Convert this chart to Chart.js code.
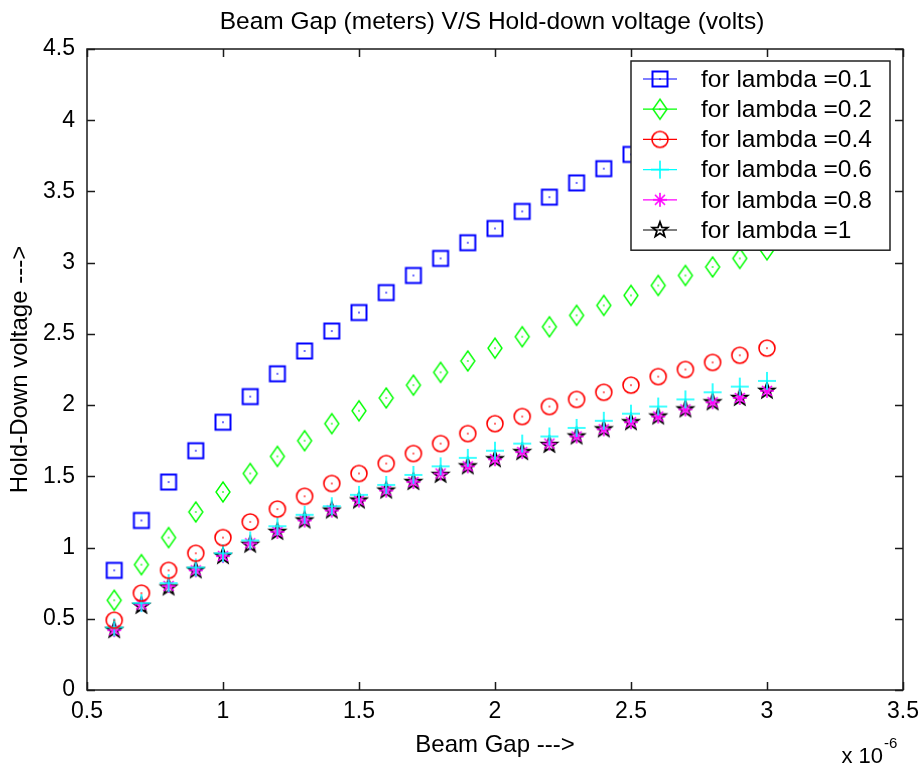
<!DOCTYPE html>
<html>
<head>
<meta charset="utf-8">
<title>Beam Gap V/S Hold-down voltage</title>
<script src="https://cdn.jsdelivr.net/npm/chart.js@4.4.1/dist/chart.umd.min.js"></script>
<style>
  html, body { margin: 0; padding: 0; background: #fff; }
</style>
</head>
<body>
<canvas id="chart" width="922" height="769"></canvas>
<script>
// Beam gap (x 10^-6 m)
const beamGap = [0.6, 0.7, 0.8, 0.9, 1.0, 1.1, 1.2, 1.3, 1.4, 1.5, 1.6, 1.7, 1.8,
  1.9, 2.0, 2.1, 2.2, 2.3, 2.4, 2.5, 2.6, 2.7, 2.8, 2.9, 3.0];

// Hold-down voltage for each lambda
const lambda01 = [0.84, 1.19, 1.46, 1.68, 1.88, 2.06, 2.22, 2.38, 2.52, 2.65, 2.79, 2.91, 3.03,
  3.14, 3.24, 3.36, 3.46, 3.56, 3.66, 3.76, 3.85, 3.94, 4.03, 4.11, 4.19];
const lambda02 = [0.63, 0.88, 1.07, 1.25, 1.39, 1.52, 1.64, 1.75, 1.87, 1.96, 2.05, 2.14, 2.23,
  2.31, 2.40, 2.48, 2.55, 2.63, 2.70, 2.77, 2.84, 2.91, 2.97, 3.03, 3.09];
const lambda04 = [0.49, 0.68, 0.84, 0.96, 1.07, 1.18, 1.27, 1.36, 1.45, 1.52, 1.59, 1.66, 1.73,
  1.80, 1.87, 1.92, 1.99, 2.04, 2.09, 2.14, 2.20, 2.25, 2.30, 2.35, 2.40];
const lambda06 = [0.44, 0.61, 0.75, 0.86, 0.96, 1.05, 1.15, 1.23, 1.29, 1.37, 1.44, 1.51, 1.57,
  1.63, 1.68, 1.73, 1.78, 1.84, 1.89, 1.94, 1.99, 2.04, 2.09, 2.13, 2.17];
const lambda08 = [0.42, 0.60, 0.73, 0.84, 0.94, 1.03, 1.11, 1.19, 1.26, 1.33, 1.40, 1.46, 1.52,
  1.57, 1.62, 1.67, 1.73, 1.78, 1.83, 1.88, 1.92, 1.97, 2.02, 2.05, 2.10];
const lambda10 = [0.42, 0.59, 0.72, 0.84, 0.94, 1.02, 1.11, 1.19, 1.26, 1.33, 1.40, 1.46, 1.51,
  1.57, 1.62, 1.67, 1.72, 1.78, 1.83, 1.88, 1.92, 1.97, 2.02, 2.05, 2.10];

const seriesLabels = ["for lambda =0.1", "for lambda =0.2", "for lambda =0.4",
  "for lambda =0.6", "for lambda =0.8", "for lambda =1"];

const FONT = "'Liberation Sans', Arial, sans-serif";

// Draw a MATLAB style marker into a small canvas, used as pointStyle
function makeMarker(kind, color) {
  const c = document.createElement("canvas");
  c.width = 24;
  c.height = 24;
  const g = c.getContext("2d");
  g.strokeStyle = color;
  g.fillStyle = color;
  g.lineWidth = 1.6;
  g.translate(12, 12);
  g.beginPath();
  if (kind === "square") {
    g.lineWidth = 2;
    g.rect(-7.5, -7.5, 15, 15);
  } else if (kind === "diamond") {
    g.lineWidth = 1.4;
    g.moveTo(0, -10);
    g.lineTo(7, 0);
    g.lineTo(0, 10);
    g.lineTo(-7, 0);
    g.closePath();
  } else if (kind === "circle") {
    g.arc(0, 0, 8, 0, Math.PI * 2);
  } else if (kind === "plus") {
    g.moveTo(-9, 0); g.lineTo(9, 0);
    g.moveTo(0, -9); g.lineTo(0, 9);
  } else if (kind === "asterisk") {
    g.moveTo(-7, 0); g.lineTo(7, 0);
    g.moveTo(0, -7); g.lineTo(0, 7);
    g.moveTo(-5, -5); g.lineTo(5, 5);
    g.moveTo(-5, 5); g.lineTo(5, -5);
  } else if (kind === "star") {
    g.lineWidth = 1.8;
    for (let i = 0; i < 10; i++) {
      const r = i % 2 === 0 ? 8 : 3.3;
      const a = -Math.PI / 2 + (i * Math.PI) / 5;
      if (i === 0) g.moveTo(r * Math.cos(a), r * Math.sin(a));
      else g.lineTo(r * Math.cos(a), r * Math.sin(a));
    }
    g.closePath();
  }
  g.stroke();
  // centre dot
  g.fillRect(-0.75, -0.75, 1.5, 1.5);
  return c;
}

const seriesValues = [lambda01, lambda02, lambda04, lambda06, lambda08, lambda10];
const seriesColors = ["#0000ff", "#00ff00", "#ff0000", "#00ffff", "#ff00ff", "#000000"];
const seriesMarkers = ["square", "diamond", "circle", "plus", "asterisk", "star"];

const datasets = seriesValues.map((vals, i) => ({
  label: seriesLabels[i],
  data: vals.map((v, j) => ({ x: beamGap[j], y: v })),
  showLine: false,
  borderColor: seriesColors[i],
  backgroundColor: seriesColors[i],
  pointStyle: makeMarker(seriesMarkers[i], seriesColors[i]),
}));

// Box, inward ticks, legend and titles in the MATLAB look
const matlabLook = {
  id: "matlabLook",
  afterDatasetsDraw(chart) {
    const { ctx, chartArea: a, scales } = chart;
    ctx.save();

    // frame and ticks
    ctx.strokeStyle = "#1a1a1a";
    ctx.lineWidth = 1.5;
    ctx.strokeRect(a.left, a.top, a.right - a.left, a.bottom - a.top);
    ctx.beginPath();
    for (const t of scales.x.ticks) {
      const px = Math.round(scales.x.getPixelForValue(t.value)) + 0.5;
      ctx.moveTo(px, a.bottom); ctx.lineTo(px, a.bottom - 8);
      ctx.moveTo(px, a.top); ctx.lineTo(px, a.top + 8);
    }
    for (const t of scales.y.ticks) {
      const py = Math.round(scales.y.getPixelForValue(t.value)) + 0.5;
      ctx.moveTo(a.left, py); ctx.lineTo(a.left + 8, py);
      ctx.moveTo(a.right, py); ctx.lineTo(a.right - 8, py);
    }
    ctx.stroke();

    // legend
    const lw = 259, rowH = 30.2;
    const lx = a.right - 13 - lw, ly = a.top + 12;
    const lh = rowH * chart.data.datasets.length + 8;
    ctx.fillStyle = "#fff";
    ctx.fillRect(lx, ly, lw, lh);
    ctx.strokeStyle = "#222";
    ctx.lineWidth = 1.5;
    ctx.strokeRect(lx, ly, lw, lh);
    ctx.font = "24.5px " + FONT;
    ctx.textBaseline = "middle";
    ctx.textAlign = "left";
    chart.data.datasets.forEach((ds, i) => {
      const cy = ly + 18 + i * rowH;
      ctx.strokeStyle = ds.borderColor;
      ctx.lineWidth = 1.2;
      ctx.beginPath();
      ctx.moveTo(lx + 12, cy);
      ctx.lineTo(lx + 46, cy);
      ctx.stroke();
      ctx.drawImage(ds.pointStyle, lx + 29 - 12, cy - 12);
      ctx.fillStyle = "#000";
      ctx.fillText(ds.label, lx + 70, cy + 1);
    });

    // plot title
    ctx.fillStyle = "#000";
    ctx.textAlign = "center";
    ctx.font = "24.5px " + FONT;
    ctx.fillText("Beam Gap (meters) V/S Hold-down voltage (volts)", (a.left + a.right) / 2 - 3, 22);

    // exponent of the x axis
    ctx.textAlign = "right";
    ctx.font = "22px " + FONT;
    ctx.fillText("x 10", a.right - 20, 757);
    ctx.textAlign = "left";
    ctx.font = "15px " + FONT;
    ctx.fillText("-6", a.right - 19, 744);
    ctx.restore();
  },
};

Chart.defaults.font.family = FONT;
Chart.defaults.font.size = 23;
Chart.defaults.color = "#000";

new Chart(document.getElementById("chart"), {
  type: "scatter",
  data: { datasets },
  options: {
    responsive: false,
    animation: false,
    layout: { padding: { top: 49, right: 19, left: 0, bottom: 0 } },
    plugins: {
      legend: { display: false },
      tooltip: { enabled: false },
    },
    scales: {
      x: {
        type: "linear",
        min: 0.5,
        max: 3.5,
        ticks: {
          stepSize: 0.5,
          padding: 8,
          maxRotation: 0,
          autoSkip: false,
          callback: (v) => String(+v.toFixed(2)),
        },
        grid: { drawOnChartArea: false, drawTicks: false },
        border: { display: false },
        title: {
          display: true,
          text: "Beam Gap --->",
          font: { size: 24 },
          padding: { top: 0, bottom: 9 },
        },
        afterFit: (s) => {
          s.height = 79;
          s.paddingLeft = 0;
          s.paddingRight = 0;
        },
      },
      y: {
        type: "linear",
        min: 0,
        max: 4.5,
        ticks: {
          stepSize: 0.5,
          padding: 12,
          autoSkip: false,
          callback: (v) => String(+v.toFixed(2)),
        },
        grid: { drawOnChartArea: false, drawTicks: false },
        border: { display: false },
        title: {
          display: true,
          text: "Hold-Down voltage --->",
          font: { size: 24 },
          padding: { top: 6, bottom: 0 },
        },
        afterFit: (s) => {
          s.width = 87;
          s.paddingTop = 0;
          s.paddingBottom = 0;
        },
      },
    },
  },
  plugins: [matlabLook],
});
</script>
</body>
</html>
